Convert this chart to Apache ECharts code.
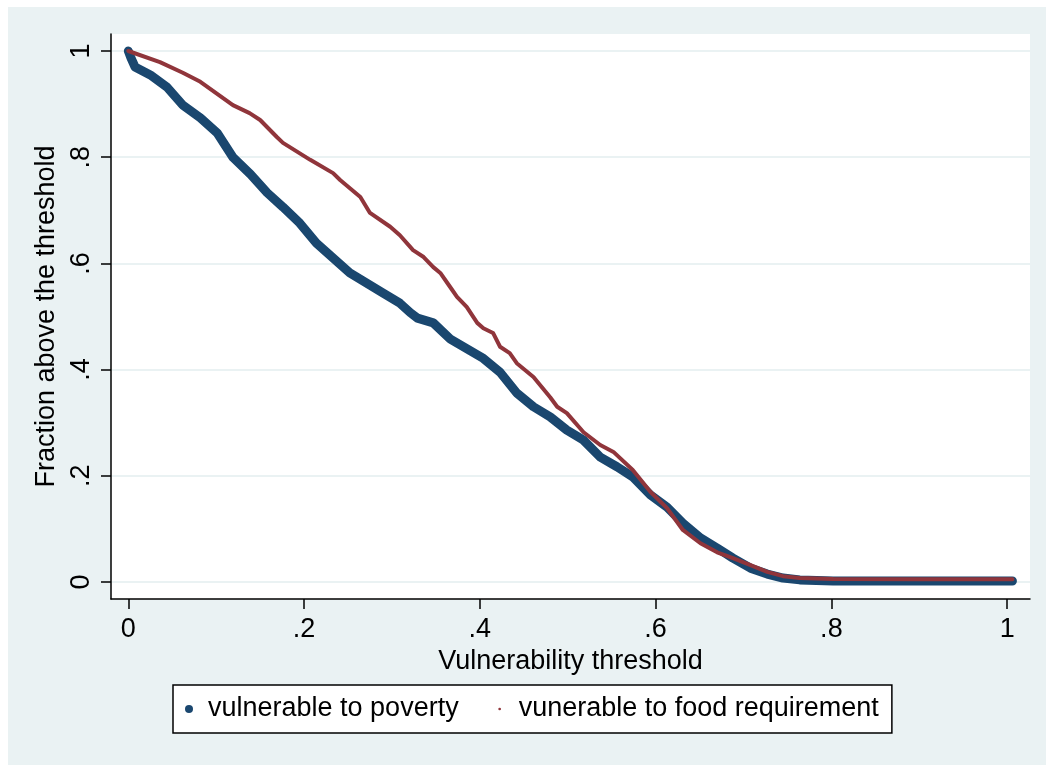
<!DOCTYPE html>
<html>
<head>
<meta charset="utf-8">
<script src="https://cdn.jsdelivr.net/npm/echarts@6/dist/echarts.min.js"></script>
<style>
html,body{margin:0;padding:0;background:#fff;}
#chart{width:1046px;height:765px;}
</style>
</head>
<body>
<div id="chart"></div>
<script>
// ---- data ----
var seriesNames = ['vulnerable to poverty', 'vunerable to food requirement'];
var povertyX = [0, 0.003, 0.0076, 0.025, 0.044, 0.062, 0.082, 0.101, 0.119, 0.139, 0.158, 0.176, 0.195, 0.214, 0.252, 0.290, 0.309, 0.321, 0.329, 0.347, 0.366, 0.404, 0.423, 0.442, 0.461, 0.480, 0.499, 0.518, 0.537, 0.556, 0.574, 0.594, 0.613, 0.631, 0.651, 0.670, 0.688, 0.708, 0.727, 0.745, 0.764, 0.802, 0.9, 1.006];
var povertyY = [1.0, 0.987, 0.970, 0.955, 0.932, 0.898, 0.874, 0.846, 0.800, 0.768, 0.733, 0.706, 0.676, 0.638, 0.582, 0.544, 0.525, 0.507, 0.497, 0.488, 0.458, 0.421, 0.395, 0.356, 0.330, 0.311, 0.286, 0.267, 0.235, 0.217, 0.198, 0.164, 0.141, 0.111, 0.083, 0.064, 0.045, 0.026, 0.015, 0.0075, 0.004, 0.002, 0.002, 0.002];
var foodX = [0, 0.036, 0.062, 0.082, 0.119, 0.138, 0.150, 0.169, 0.176, 0.207, 0.233, 0.241, 0.264, 0.275, 0.298, 0.309, 0.324, 0.336, 0.347, 0.355, 0.366, 0.374, 0.385, 0.397, 0.404, 0.415, 0.423, 0.434, 0.442, 0.461, 0.480, 0.488, 0.499, 0.518, 0.537, 0.552, 0.574, 0.594, 0.613, 0.631, 0.651, 0.670, 0.688, 0.708, 0.727, 0.745, 0.764, 0.802, 0.9, 1.006];
var foodY = [1.0, 0.979, 0.959, 0.942, 0.898, 0.883, 0.870, 0.838, 0.827, 0.795, 0.770, 0.757, 0.725, 0.695, 0.669, 0.653, 0.625, 0.612, 0.593, 0.582, 0.556, 0.537, 0.518, 0.488, 0.478, 0.469, 0.443, 0.431, 0.412, 0.386, 0.348, 0.330, 0.318, 0.282, 0.258, 0.245, 0.211, 0.170, 0.139, 0.098, 0.073, 0.056, 0.045, 0.032, 0.019, 0.011, 0.0075, 0.0056, 0.005, 0.005];
var xTicks = [0, 0.2, 0.4, 0.6, 0.8, 1];
var yTicks = [0, 0.2, 0.4, 0.6, 0.8, 1];
var xTitle = 'Vulnerability threshold';
var yTitle = 'Fraction above the threshold';

function pairs(xs, ys) { return xs.map(function (x, i) { return [x, ys[i]]; }); }
function fmt(v) {
  var r = Math.round(v * 10) / 10;
  if (r === 0) return '0';
  if (r === 1) return '1';
  return String(r).replace(/^0/, '');
}

var FONT = '"Liberation Sans", Arial, sans-serif';
var FS = 27;
var NAVY = '#1A476F', MAROON = '#90353B', BG = '#EAF2F3';

var chart = echarts.init(document.getElementById('chart'), null, {renderer: 'canvas'});
chart.setOption({
  animation: false,
  backgroundColor: '#ffffff',
  graphic: [
    {type: 'rect', z: -10, silent: true, shape: {x: 8, y: 7, width: 1046, height: 765}, style: {fill: BG}},
    {type: 'rect', z: -9, silent: true, shape: {x: 111, y: 34, width: 919, height: 565}, style: {fill: '#ffffff'}}
  ],
  grid: {left: 111, top: 34, right: 16, bottom: 166, containLabel: false},
  xAxis: {
    type: 'value', min: -0.0197, max: 1.026,
    name: xTitle, nameLocation: 'middle', nameGap: 43,
    nameTextStyle: {fontFamily: FONT, fontSize: FS, color: '#000'},
    axisLine: {show: true, onZero: false, lineStyle: {color: '#000', width: 1.5}},
    axisTick: {show: true, length: 10, customValues: xTicks, lineStyle: {color: '#000', width: 1.5}},
    axisLabel: {customValues: xTicks, formatter: fmt, margin: 17, fontFamily: FONT, fontSize: FS, color: '#000'},
    splitLine: {show: false}
  },
  yAxis: {
    type: 'value', min: -0.032, max: 1.032,
    name: yTitle, nameLocation: 'middle', nameGap: 44, nameRotate: 90,
    nameTextStyle: {fontFamily: FONT, fontSize: FS, color: '#000'},
    axisLine: {show: true, onZero: false, lineStyle: {color: '#000', width: 1.5}},
    axisTick: {show: true, length: 10, customValues: yTicks, lineStyle: {color: '#000', width: 1.5}},
    axisLabel: {customValues: yTicks, formatter: fmt, rotate: 90, margin: 16, fontFamily: FONT, fontSize: FS, color: '#000'},
    splitLine: {show: true, lineStyle: {color: BG, width: 2}}
  },
  legend: {
    left: 173, top: 685, orient: 'horizontal',
    backgroundColor: '#fff', borderColor: '#000', borderWidth: 1.5,
    padding: [10, 13, 10, 12],
    itemWidth: 8, itemHeight: 8, itemGap: 37,
    textStyle: {fontFamily: FONT, fontSize: FS, lineHeight: 28, color: '#000', padding: [0, 0, 0, 10]},
    data: [
      {name: seriesNames[0], icon: 'circle', itemStyle: {color: NAVY}},
      {name: seriesNames[1], icon: 'path://M0 0L0 0M10 10L10 10M5 3.3A1.7 1.7 0 1 1 5 6.7A1.7 1.7 0 1 1 5 3.3Z', itemStyle: {color: MAROON}}
    ]
  },
  series: [
    {
      name: seriesNames[0], type: 'line', showSymbol: false, symbol: 'none',
      data: pairs(povertyX, povertyY), z: 3,
      itemStyle: {color: NAVY},
      lineStyle: {color: NAVY, width: 9, cap: 'round', join: 'round'}
    },
    {
      name: seriesNames[1], type: 'line', showSymbol: false, symbol: 'none',
      data: pairs(foodX, foodY), z: 4,
      itemStyle: {color: MAROON},
      lineStyle: {color: MAROON, width: 4, cap: 'round', join: 'round'}
    }
  ]
});
</script>
</body>
</html>
